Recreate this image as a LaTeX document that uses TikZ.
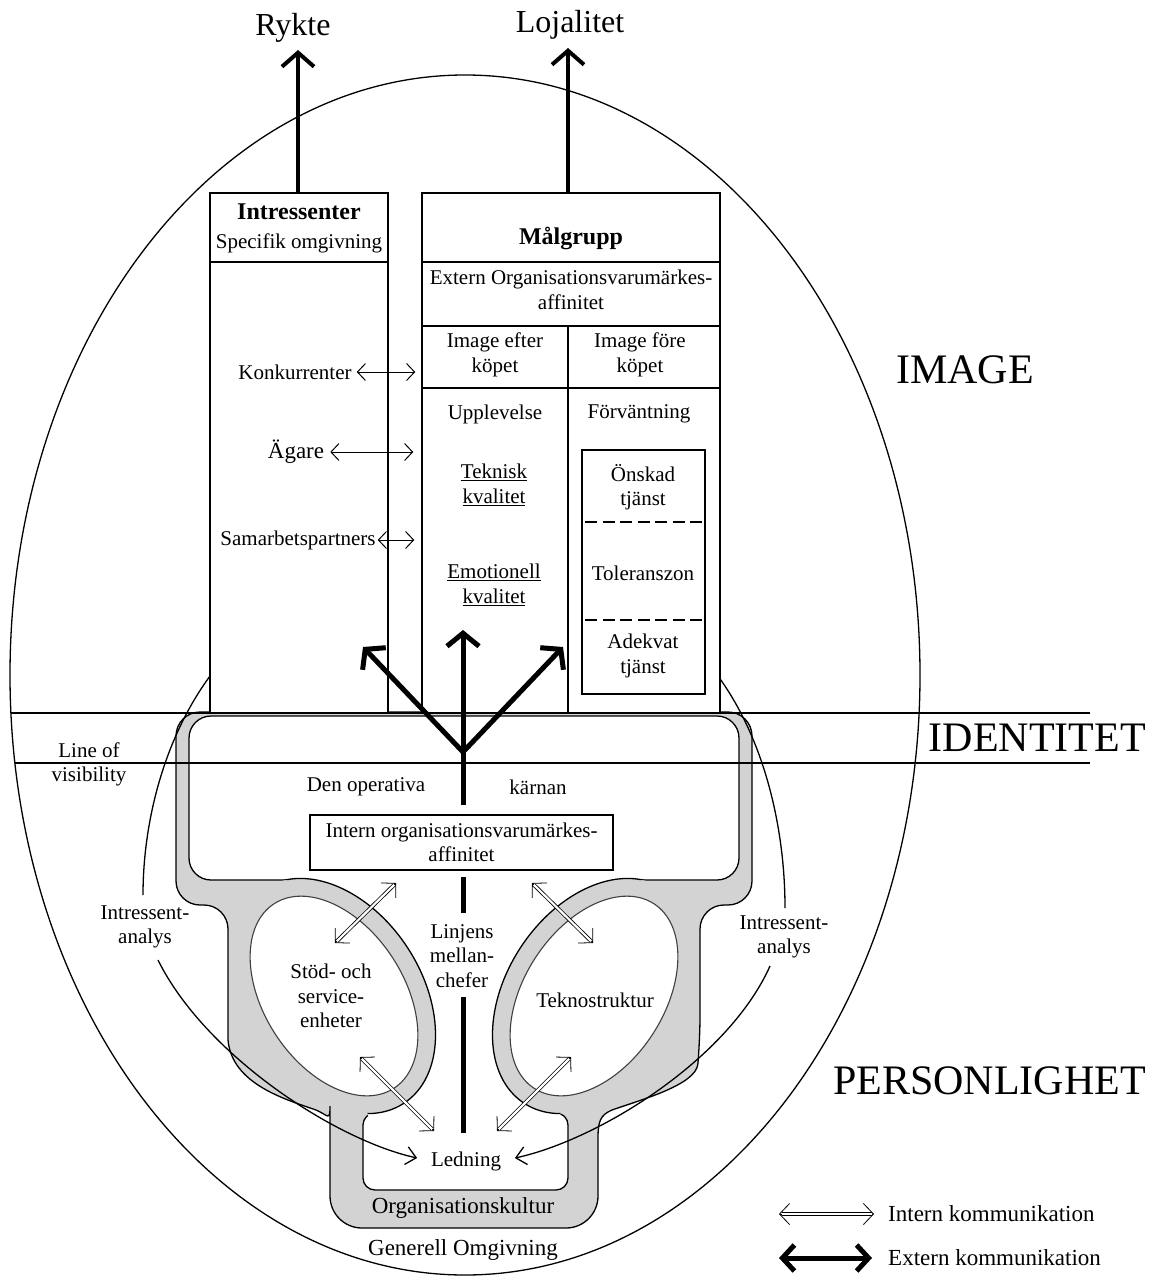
\documentclass[tikz,border=0pt]{standalone}
\usepackage{fontspec}
\setmainfont{Liberation Serif}
\usetikzlibrary{arrows.meta}
\definecolor{band}{RGB}{211,211,211}
\begin{document}
\begin{tikzpicture}[x=1pt,y=-1pt,
  lbl/.style={inner sep=0pt, align=center, font=\fontsize{21}{24.5}\selectfont},
  lblm/.style={inner sep=0pt, align=center, font=\fontsize{23}{26}\selectfont},
  headtxt/.style={inner sep=0pt, align=center, font=\fontsize{24}{27}\selectfont\bfseries},
  zone/.style={inner sep=0pt, font=\fontsize{42}{44}\selectfont},
  outcome/.style={inner sep=0pt, font=\fontsize{32}{34}\selectfont},
  boxn/.style={draw, line width=1.5pt, fill=white, inner sep=0pt},
  rim/.style={line width=1.3pt},
  bandline/.style={line width=1.3pt},
  holeline/.style={line width=1.1pt, draw=black!75},
  extarrow/.style={line width=5pt, -{Straight Barb[length=13pt,width=32pt]}},
  bigarrow/.style={line width=4pt, -{Straight Barb[length=14pt,width=32pt]}},
  thinarrow/.style={line width=1pt, {Straight Barb[length=8pt,width=17pt]}-{Straight Barb[length=8pt,width=17pt]}},
  inttip/.style={line width=0.8pt, {Straight Barb[length=10pt,width=21pt]}-{Straight Barb[length=10pt,width=21pt]}},
  intline/.style={double=white, double distance=2.2pt, line width=0.8pt, shorten <=2.5pt, shorten >=2.5pt},
  arcarrow/.style={rim, -{Straight Barb[length=10pt,width=18pt]}},
  midbar/.style={line width=5pt}
]
\useasboundingbox (0,0) rectangle (1157,1281);
\fill[white] (0,0) rectangle (1157,1281);

% general environment
\draw[rim] (465,675) ellipse [x radius=455, y radius=600];

% organisation band (grey silhouette)
\path[draw=black, bandline, fill=band] (228,1040) [rounded corners=24] -- (228,905) -- (176,905) -- (176,712) -- (752,712) -- (752,905) -- (700,905) -- (700,1040) [sharp corners] .. controls (696,1085) and (640,1100) .. (612,1110) .. controls (600,1115) and (598,1122) .. (598,1138) [rounded corners=32] -- (598,1228) -- (330,1228) -- (330,1138) [sharp corners] .. controls (330,1122) and (328,1115) .. (316,1110) .. controls (288,1100) and (232,1085) .. (228,1040) -- cycle;

% white interior: operating core, channel, management
\path[draw=black, bandline, fill=white, rounded corners=22] (189,716) rectangle (739,880);
\path[draw=black, bandline, fill=white, rounded corners=12] (363,1113) rectangle (568,1190);
\fill[white] (296.6,865) -- (631.4,865) -- (557.1,1125) -- (370.9,1125) -- cycle;

% rings around support staff and technostructure
\fill[band, rotate around={33:(334,996)}] (334,996) ellipse [x radius=88, y radius=128];
\fill[band, rotate around={-33:(594,996)}] (594,996) ellipse [x radius=88, y radius=128];
\begin{scope}
  \clip (296.6,865) -- (631.4,865) -- (557.1,1125) -- (370.9,1125) -- cycle
        (189,716) -- (739,716) -- (739,880) -- (189,880) -- cycle;
  \draw[bandline, rotate around={33:(334,996)}] (334,996) ellipse [x radius=88, y radius=128];
  \draw[bandline, rotate around={-33:(594,996)}] (594,996) ellipse [x radius=88, y radius=128];
\end{scope}
\path[holeline, fill=white, rotate around={33:(334,996)}] (334,996) ellipse [x radius=70, y radius=110];
\path[holeline, fill=white, rotate around={-33:(594,996)}] (594,996) ellipse [x radius=70, y radius=110];

% lines of the identity zone
\draw[line width=1.5pt] (10.9,713) -- (1090,713);
\draw[line width=1.5pt] (15,763) -- (1090,763);

% organisation texts
\node[boxn, line width=1.3pt, lbl, minimum width=303pt, minimum height=55pt] (intbox) at (461.5,842.5) {Intern organisationsvarumärkes-\\affinitet};
\node[lbl] (oper) at (366,787) {Den operativa};
\node[lbl] (karn) at (538,787) {kärnan};
\node[lbl] (linj) at (462,956) {Linjens\\mellan-\\chefer};
\node[lbl] (stod) at (331,996) {Stöd- och\\service-\\enheter};
\node[lbl] (tekn) at (595,1000) {Teknostruktur};
\node[lbl] (led) at (466,1161) {Ledning};
\node[lblm] (kult) at (463,1208) {Organisationskultur};
\node[lblm] (gen) at (463,1250) {Generell Omgivning};
\node[lbl] (lov) at (89,764.5) {Line of\\visibility};
\node[lbl] (iaL) at (145,927) {Intressent-\\analys};
\node[lbl] (iaR) at (784,937) {Intressent-\\analys};

% stakeholder analysis arcs
\coordinate (aL0) at (213,672);
\coordinate (aL1) at (143,895);
\coordinate (aL2) at (158,960);
\coordinate (aR0) at (715,672);
\coordinate (aR1) at (785,908);
\coordinate (aR2) at (770,966);
\draw[rim] (aL0) .. controls (165,735) and (143,820) .. (aL1);
\draw[rim] (aR0) .. controls (763,735) and (785,825) .. (aR1);
\draw[arcarrow, shorten >=14pt] (aL2) .. controls (205,1055) and (335,1140) .. (led.west);
\draw[arcarrow, shorten >=14pt] (aR2) .. controls (728,1060) and (598,1140) .. (led.east);

% stakeholder box
\node[boxn, minimum width=178pt, minimum height=520pt] (intr) at (299,453) {};
\draw[line width=1.5pt] (210,262) -- (388,262);
\node[headtxt] (intrh) at (299,212) {Intressenter};
\node[lbl] (spec) at (299,243) {Specifik omgivning};
\node[lbl] (konk) at (295,372) {Konkurrenter};
\node[lblm] (agare) at (296,452) {Ägare};
\node[lbl] (samb) at (298,540) {Samarbetspartners};

% target group box
\node[boxn, minimum width=298pt, minimum height=520pt] (malg) at (571,453) {};
\draw[line width=1.5pt] (422,262) -- (720,262);
\draw[line width=1.5pt] (422,326) -- (720,326);
\draw[line width=1.5pt] (422,388) -- (720,388);
\draw[line width=1.5pt] (568,326) -- (568,713);
\node[headtxt] (malh) at (571,238) {Målgrupp};
\node[lbl] (ext) at (571,290) {Extern Organisationsvarumärkes-\\affinitet};
\node[lbl] (efter) at (495,355) {Image efter\\köpet};
\node[lbl] (fore) at (640,355) {Image före\\köpet};
\node[lbl] (uppl) at (495,414) {Upplevelse};
\node[lbl] (forv) at (639,414) {Förväntning};
\node[lbl] (tekk) at (494,485) {\underline{Teknisk}\\\underline{kvalitet}};
\node[lbl] (emok) at (494,585) {\underline{Emotionell}\\\underline{kvalitet}};
\node[boxn, minimum width=123pt, minimum height=244pt] (forvbox) at (643.5,572) {};
\draw[line width=1.5pt, dash pattern=on 12pt off 5.5pt] (585,522) -- (703,522);
\draw[line width=1.5pt, dash pattern=on 12pt off 5.5pt] (585,620) -- (703,620);
\node[lbl] (onsk) at (643,487) {Önskad\\tjänst};
\node[lbl] (tol) at (643,573) {Toleranszon};
\node[lbl] (adek) at (643,656) {Adekvat\\tjänst};

% zone titles
\node[zone] (zimg) at (965,370) {IMAGE};
\node[zone, anchor=east] (zid) at (1146,738) {IDENTITET};
\node[zone, anchor=east] (zpers) at (1146,1081) {PERSONLIGHET};

% outcomes
\node[outcome] (rykte) at (293,28) {Rykte};
\node[outcome] (loj) at (570,25) {Lojalitet};
\coordinate (ryTip) at (298,50);
\coordinate (ryBase) at (298,193);
\coordinate (lojTip) at (568,48);
\coordinate (lojBase) at (568,193);
\draw[bigarrow] (ryBase) -- (ryTip);
\draw[bigarrow] (lojBase) -- (lojTip);

% stakeholder relations
\draw[thinarrow, shorten <=5pt, shorten >=6pt] (konk.east) -- (konk.east -| malg.west);
\draw[thinarrow, shorten <=6pt, shorten >=8pt] (agare.east) -- (agare.east -| malg.west);
\draw[thinarrow, shorten <=2pt, shorten >=7pt] (samb.east) -- (samb.east -| malg.west);

% external communication from the operating core
\coordinate (coreBase) at (463,805);
\coordinate (jn) at (463,752);
\coordinate (tL) at (363,647);
\coordinate (tU) at (463,630);
\coordinate (tR) at (563,647);
\draw[midbar] (coreBase) -- (463,748);
\draw[extarrow] (jn) -- (tL);
\draw[extarrow] (jn) -- (tU);
\draw[extarrow] (jn) -- (tR);

% line of middle managers
\draw[midbar] (463,877) -- (463,913);
\draw[midbar] (463,997) -- (463,1133);

% internal communication
\coordinate (iaL1) at (335,943); \coordinate (iaL2) at (396,883);
\coordinate (iaR1) at (532,883); \coordinate (iaR2) at (593,943);
\coordinate (ibL1) at (360,1057); \coordinate (ibL2) at (434,1131);
\coordinate (ibR1) at (497,1131); \coordinate (ibR2) at (571,1057);
\foreach \a/\b in {iaL1/iaL2, iaR1/iaR2, ibL1/ibL2, ibR1/ibR2} {
  \draw[inttip] (\a) -- (\b);
  \draw[intline] (\a) -- (\b);
}

% legend
\coordinate (lgA1) at (779,1214); \coordinate (lgA2) at (874,1214);
\coordinate (lgB1) at (779,1258); \coordinate (lgB2) at (872,1258);
\draw[inttip] (lgA1) -- (lgA2);
\draw[intline] (lgA1) -- (lgA2);
\draw[line width=5pt, {Straight Barb[length=12pt,width=26pt]}-{Straight Barb[length=12pt,width=26pt]}] (lgB1) -- (lgB2);
\node[lblm, anchor=west] (lgInt) at (888,1214) {Intern kommunikation};
\node[lblm, anchor=west] (lgExt) at (888,1258) {Extern kommunikation};
\end{tikzpicture}
\end{document}
